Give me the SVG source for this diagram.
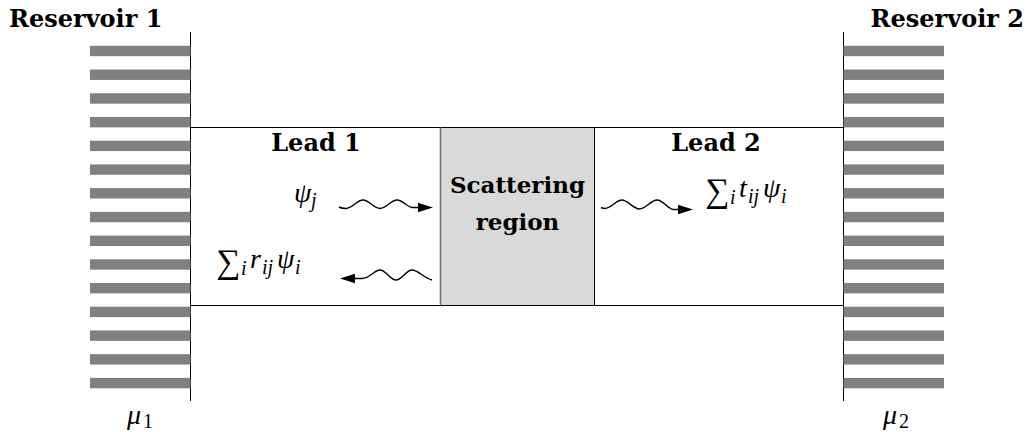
<svg xmlns="http://www.w3.org/2000/svg" width="1032" height="432" viewBox="0 0 1032 432">
<style>
.b{font-family:"DejaVu Serif","Liberation Serif",serif;font-weight:bold;font-size:24px;fill:#000}
.b2{font-size:23px}
.m{font-family:"Liberation Serif","Times New Roman",serif;font-style:italic;font-size:28px;fill:#000}
.s{font-size:20px}
.n{font-style:normal}
.sum{font-style:normal;font-size:34px}
.ln{stroke:#000;stroke-width:1;fill:none}
.st{fill:#808080}
.w{fill:none;stroke:#000;stroke-width:1.4}
.ah{fill:#000}
</style>
<defs>
<g id="stripes" class="st">
<rect x="0" y="45.8" width="100.5" height="10.4"/>
<rect x="0" y="69.52" width="100.5" height="10.4"/>
<rect x="0" y="93.24" width="100.5" height="10.4"/>
<rect x="0" y="116.96" width="100.5" height="10.4"/>
<rect x="0" y="140.68" width="100.5" height="10.4"/>
<rect x="0" y="164.4" width="100.5" height="10.4"/>
<rect x="0" y="188.12" width="100.5" height="10.4"/>
<rect x="0" y="211.84" width="100.5" height="10.4"/>
<rect x="0" y="235.56" width="100.5" height="10.4"/>
<rect x="0" y="259.28" width="100.5" height="10.4"/>
<rect x="0" y="283" width="100.5" height="10.4"/>
<rect x="0" y="306.72" width="100.5" height="10.4"/>
<rect x="0" y="330.44" width="100.5" height="10.4"/>
<rect x="0" y="354.16" width="100.5" height="10.4"/>
<rect x="0" y="377.88" width="100.5" height="10.4"/>
</g>
</defs>

<g id="reservoir1">
<line class="ln" x1="190.5" y1="32" x2="190.5" y2="401"/>
<use href="#stripes" transform="translate(90,0)"/>
<text class="b" x="9" y="27">Reservoir 1</text>
<text class="m" x="127" y="424">μ<tspan class="s n" x="143" y="428">1</tspan></text>
</g>

<g id="reservoir2">
<line class="ln" x1="843.5" y1="32" x2="843.5" y2="401"/>
<use href="#stripes" transform="translate(843.5,0)"/>
<text class="b" x="1024" y="27" text-anchor="end">Reservoir 2</text>
<text class="m" x="883" y="424">μ<tspan class="s n" x="899" y="428">2</tspan></text>
</g>

<g id="lead1">
<line class="ln" x1="190.5" y1="127.5" x2="440.5" y2="127.5"/>
<line class="ln" x1="190.5" y1="305.5" x2="440.5" y2="305.5"/>
<text class="b" x="316" y="151" text-anchor="middle">Lead 1</text>
<text class="m" x="294" y="202">ψ<tspan class="s" x="311" y="207">j</tspan></text>
<text class="m" y="268"><tspan class="sum" x="216" y="273">∑</tspan><tspan class="s" x="241" y="275">i</tspan><tspan x="250" y="268">r</tspan><tspan class="s" x="262" y="274">ij</tspan><tspan x="277" y="268">ψ</tspan><tspan class="s" x="295" y="274">i</tspan></text>
</g>

<g id="lead2">
<line class="ln" x1="594.5" y1="127.5" x2="843.5" y2="127.5"/>
<line class="ln" x1="594.5" y1="305.5" x2="843.5" y2="305.5"/>
<text class="b" x="716" y="151" text-anchor="middle">Lead 2</text>
<text class="m" y="197"><tspan class="sum" x="705" y="202">∑</tspan><tspan class="s" x="730" y="204">i</tspan><tspan x="739" y="197">t</tspan><tspan class="s" x="748" y="203">ij</tspan><tspan x="763" y="197">ψ</tspan><tspan class="s" x="781" y="203">i</tspan></text>
</g>

<g id="scattering">
<rect x="440.5" y="127.5" width="154" height="178" fill="#d9d9d9" stroke="#000" stroke-width="1"/>
<line x1="440.5" y1="127.5" x2="440.5" y2="305.5" stroke="#707070" stroke-width="1.6"/>
<text class="b b2" x="517.5" y="193" text-anchor="middle">Scattering</text>
<text class="b b2" x="517.5" y="230" text-anchor="middle">region</text>
</g>

<g id="connectors">
<path class="w" d="M339,207 Q342,208.5 346,208.5 C352,208.5 357,200 363,200 C369,200 374,208.5 380,208.5 C386,208.5 391,200 397,200 C403,200 407,207 412,207.5 L420,207.5"/>
<polygon class="ah" points="433,207.5 418,202.8 418,212.2"/>
<path class="w" d="M601,207.5 Q603,208.5 605,208.5 C611,208.5 616,200 622,200 C628,200 633,209 639.5,209 C645.5,209 651,200 657,200 C663,200 668,209 673,209.5 L680,209.5"/>
<polygon class="ah" points="693,209.5 678,204.8 678,214.2"/>
<path class="w" d="M354,278.5 L362,278.5 C370,278.5 374,270 380,270 C386,270 390,280 396,280 C402,280 406,270 412,270 C418,270 424,278 432,280"/>
<polygon class="ah" points="340,278.5 355,273.8 355,283.2"/>
</g>
</svg>
